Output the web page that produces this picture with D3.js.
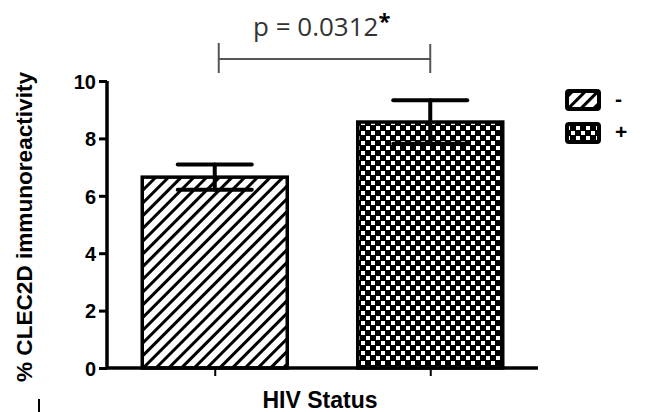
<!DOCTYPE html>
<html>
<head>
<meta charset="utf-8">
<script src="https://cdn.jsdelivr.net/npm/d3@7"></script>
<style>
  body { margin: 0; background: #fff; }
  svg { display: block; }
</style>
</head>
<body>
<svg id="chart" width="648" height="412"></svg>
<script>
// data
var groups = ["-", "+"];
var means = [6.65, 8.57];
var sems = [0.44, 0.76];
var yTicks = [0, 2, 4, 6, 8, 10];
var pLabel = "p = 0.0312";

var svg = d3.select("#chart");
var axisLeft = 107, axisRight = 538, axisTop = 81, axisBottom = 368;

var x = d3.scalePoint().domain(groups).range([axisLeft, axisRight]).padding(0.5);
var y = d3.scaleLinear().domain([0, 10]).range([axisBottom, axisTop]);
var barW = 145, capHalf = 37;

// patterns
var defs = svg.append("defs");
var hatch = defs.append("pattern")
    .attr("id", "hatch")
    .attr("patternUnits", "userSpaceOnUse")
    .attr("width", 9).attr("height", 9)
    .attr("patternTransform", "rotate(45)");
hatch.append("rect").attr("width", 9).attr("height", 9).attr("fill", "#fff");
hatch.append("line").attr("x1", 0).attr("y1", 0).attr("x2", 0).attr("y2", 9)
    .attr("stroke", "#000").attr("stroke-width", 6);

var checks = defs.append("pattern")
    .attr("id", "checks")
    .attr("patternUnits", "userSpaceOnUse")
    .attr("width", 10).attr("height", 10);
checks.append("rect").attr("width", 10).attr("height", 10).attr("fill", "#000");
checks.append("rect").attr("x", 1).attr("y", 1).attr("width", 4).attr("height", 4).attr("fill", "#fff");
checks.append("rect").attr("x", 6).attr("y", 6).attr("width", 4).attr("height", 4).attr("fill", "#fff");

var fills = {"-": "url(#hatch)", "+": "url(#checks)"};

// bars
svg.append("g").selectAll("rect")
    .data(groups)
    .enter().append("rect")
    .attr("x", function (d) { return x(d) - barW / 2; })
    .attr("y", function (d, i) { return y(means[i]); })
    .attr("width", barW)
    .attr("height", function (d, i) { return y(0) - y(means[i]); })
    .attr("fill", function (d) { return fills[d]; })
    .attr("stroke", "#000")
    .attr("stroke-width", 3.5);

// error bars
var err = svg.append("g").attr("stroke", "#000").attr("stroke-width", 4).attr("stroke-linecap", "round");
groups.forEach(function (d, i) {
    var cx = x(d);
    err.append("line").attr("x1", cx).attr("x2", cx)
        .attr("y1", y(means[i] - sems[i])).attr("y2", y(means[i] + sems[i]));
    err.append("line").attr("x1", cx - capHalf).attr("x2", cx + capHalf)
        .attr("y1", y(means[i] + sems[i])).attr("y2", y(means[i] + sems[i]));
    err.append("line").attr("x1", cx - capHalf).attr("x2", cx + capHalf)
        .attr("y1", y(means[i] - sems[i])).attr("y2", y(means[i] - sems[i]));
});

// y axis
var gy = svg.append("g")
    .attr("transform", "translate(" + axisLeft + ",0)")
    .call(d3.axisLeft(y).tickValues(yTicks).tickSize(8).tickPadding(3).tickFormat(d3.format("d")));
gy.select(".domain").attr("stroke-width", 3.5).attr("d", "M0," + axisTop + "V" + axisBottom);
gy.selectAll(".tick line").attr("stroke-width", 3);
gy.selectAll(".tick text")
    .attr("font-family", "Liberation Sans, Arial, sans-serif")
    .attr("font-weight", "bold").attr("font-size", 20).attr("fill", "#000")
    .attr("dy", "0.36em");

// x axis
var gx = svg.append("g")
    .attr("transform", "translate(0," + axisBottom + ")")
    .call(d3.axisBottom(x).tickSize(8).tickFormat(""));
gx.select(".domain").attr("stroke-width", 3.5).attr("d", "M" + axisLeft + ",0H" + axisRight);
gx.selectAll(".tick line").attr("stroke-width", 2);

// axis titles
svg.append("text")
    .attr("x", 320).attr("y", 408)
    .attr("text-anchor", "middle")
    .attr("font-family", "Liberation Sans, Arial, sans-serif")
    .attr("font-weight", "bold").attr("font-size", 23)
    .attr("textLength", 115).attr("lengthAdjust", "spacingAndGlyphs")
    .text("HIV Status");

svg.append("text")
    .attr("transform", "translate(32,227) rotate(-90)")
    .attr("text-anchor", "middle")
    .attr("font-family", "Liberation Sans, Arial, sans-serif")
    .attr("font-weight", "bold").attr("font-size", 22)
    .attr("textLength", 310).attr("lengthAdjust", "spacingAndGlyphs")
    .text("% CLEC2D immunoreactivity");

// significance bracket
var br = svg.append("g").attr("stroke", "#555").attr("stroke-width", 2);
br.append("line").attr("x1", x("-") + 4).attr("x2", x("+")).attr("y1", 59).attr("y2", 59);
br.append("line").attr("x1", x("-") + 4).attr("x2", x("-") + 4).attr("y1", 43).attr("y2", 73);
br.append("line").attr("x1", x("+")).attr("x2", x("+")).attr("y1", 44).attr("y2", 73);

var pt = svg.append("text")
    .attr("x", 253).attr("y", 36)
    .attr("font-family", "Open Sans, Liberation Sans, sans-serif")
    .attr("font-size", 26).attr("fill", "#333");
pt.append("tspan").text(pLabel);
pt.append("tspan").attr("font-weight", "bold").attr("fill", "#000").attr("dy", -7).attr("font-size", 22).text("*");

// legend
var legend = svg.append("g");
groups.forEach(function (d, i) {
    var ly = 91 + i * 33;
    legend.append("rect")
        .attr("x", 567).attr("y", ly).attr("width", 32).attr("height", 18)
        .attr("rx", 2)
        .attr("fill", fills[d]).attr("stroke", "#000").attr("stroke-width", 4);
    legend.append("text")
        .attr("x", 615).attr("y", ly + 15)
        .attr("font-family", "Liberation Sans, Arial, sans-serif")
        .attr("font-weight", "bold").attr("font-size", 21)
        .text(d);
});

// small stray mark bottom-left of figure
svg.append("line").attr("x1", 39).attr("x2", 39).attr("y1", 399).attr("y2", 412)
    .attr("stroke", "#000").attr("stroke-width", 2);
</script>
</body>
</html>
